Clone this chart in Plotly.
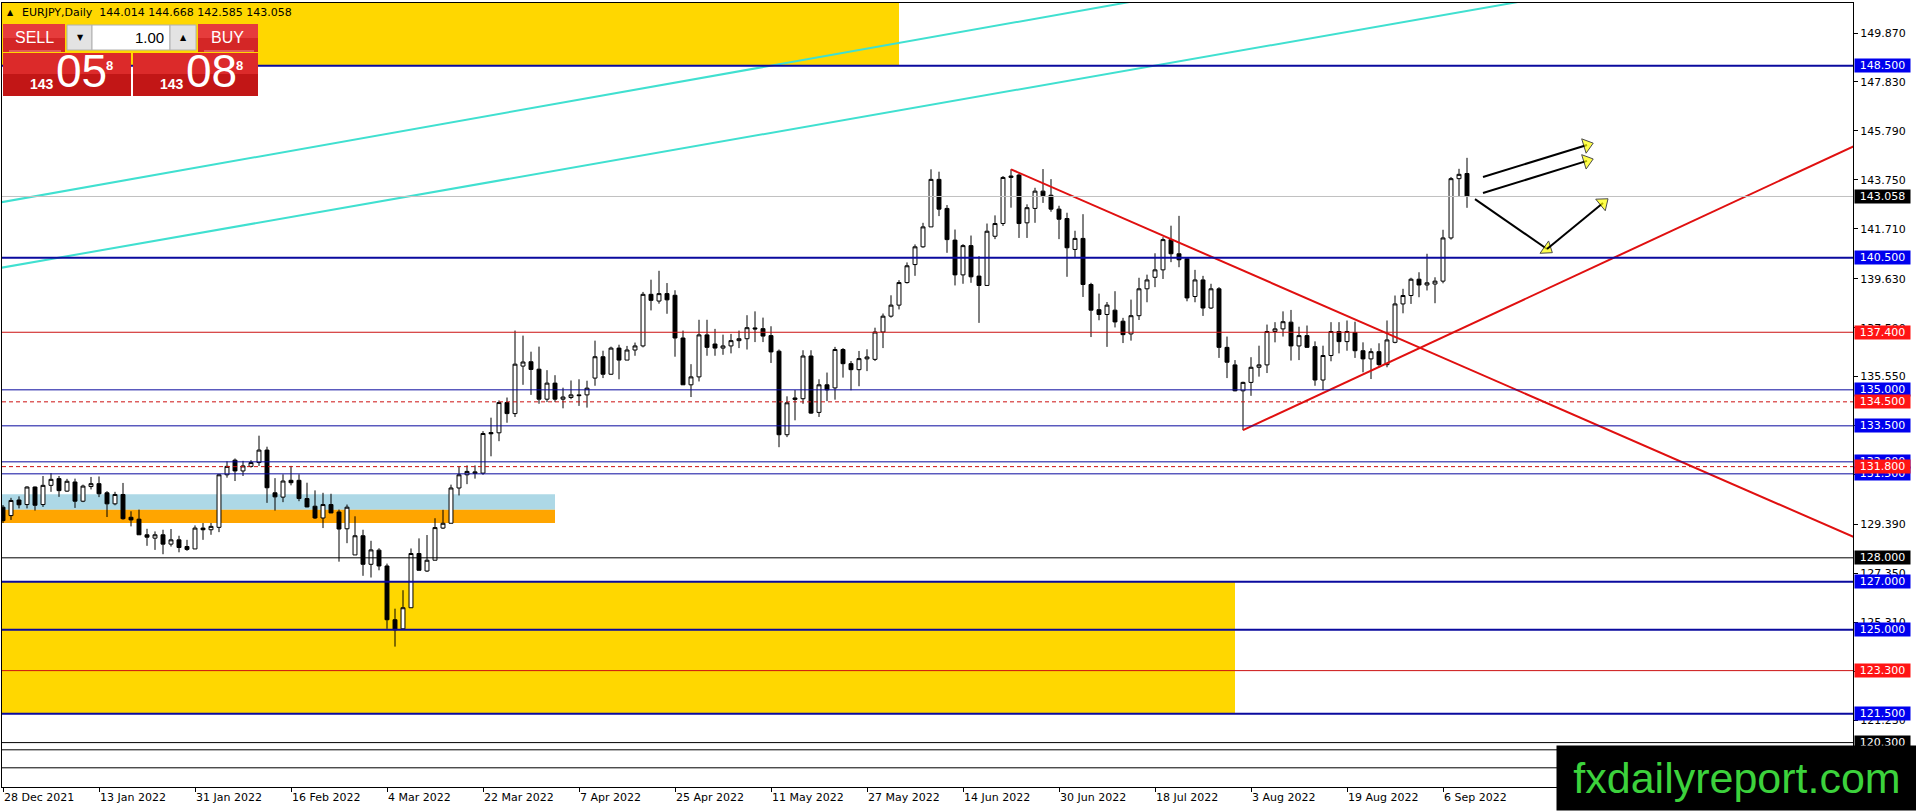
import numpy as np
import pandas as pd
import plotly.graph_objects as go

first_day = "2021-12-28"

# EURJPY daily bars, 28 Dec 2021 .. 9 Sep 2022 (10 bars per row)
opens = [
    130.11, 129.76, 130.41, 130.22, 130.95, 130.22, 131.02, 131.30, 130.78, 131.16,
    130.36, 130.97, 131.09, 130.71, 130.25, 130.64, 129.69, 129.61, 128.96, 128.82,
    128.96, 128.57, 128.75, 128.47, 128.37, 129.24, 129.17, 129.27, 131.46, 132.07,
    131.62, 131.81, 131.97, 132.49, 130.71, 130.53, 131.23, 131.23, 130.47, 130.15,
    129.66, 130.22, 129.91, 129.21, 128.12, 128.92, 127.73, 128.32, 127.66, 125.42,
    125.04, 125.92, 128.18, 127.45, 127.90, 129.24, 129.44, 130.91, 131.46, 131.52,
    131.53, 133.22, 133.21, 134.47, 134.01, 135.99, 136.17, 135.86, 134.61, 135.28,
    134.61, 134.68, 134.79, 134.79, 135.49, 136.38, 135.65, 136.74, 136.24, 136.66,
    136.83, 138.98, 138.70, 139.01, 138.94, 137.16, 135.21, 135.54, 137.29, 136.91,
    136.74, 136.83, 137.05, 137.13, 137.58, 137.55, 137.26, 136.61, 133.13, 134.60,
    134.63, 136.41, 134.06, 135.21, 135.08, 136.68, 136.09, 135.84, 136.29, 136.27,
    137.41, 138.07, 138.53, 139.47, 140.22, 140.96, 141.79, 143.77, 142.56, 141.24,
    139.79, 141.01, 139.74, 139.35, 141.40, 141.93, 143.85, 143.95, 141.96, 142.56,
    143.28, 143.11, 142.53, 142.14, 140.85, 141.31, 139.39, 138.34, 138.14, 138.32,
    137.86, 137.33, 138.09, 139.21, 139.69, 140.00, 141.26, 140.67, 140.46, 138.89,
    139.58, 138.41, 139.21, 136.77, 136.04, 134.96, 135.31, 135.94, 136.04, 137.43,
    137.54, 137.82, 136.83, 137.26, 136.80, 135.41, 136.43, 137.43, 137.01, 137.39,
    136.63, 136.29, 136.59, 136.05, 136.98, 138.58, 138.93, 139.61, 139.37, 139.41,
    139.53, 141.33, 143.80, 144.014,
]
highs = [
    130.20, 130.50, 130.56, 130.98, 130.97, 131.41, 131.53, 131.41, 131.29, 131.30,
    131.05, 131.37, 131.39, 130.78, 130.75, 131.12, 129.94, 130.01, 129.21, 129.10,
    129.17, 129.20, 128.92, 128.75, 129.35, 129.45, 129.45, 131.48, 132.02, 132.14,
    132.04, 132.07, 133.09, 132.63, 131.32, 131.48, 131.83, 131.48, 131.13, 130.81,
    130.71, 130.67, 130.01, 130.22, 129.73, 129.17, 128.71, 128.40, 127.76, 125.88,
    126.65, 128.39, 128.81, 128.95, 129.65, 130.00, 131.05, 131.81, 131.85, 131.85,
    133.28, 133.84, 134.56, 134.68, 137.47, 137.26, 136.59, 136.80, 135.82, 135.61,
    135.09, 135.39, 135.44, 135.38, 137.05, 136.63, 136.80, 136.88, 136.83, 136.97,
    139.08, 139.59, 139.96, 139.45, 139.15, 137.47, 136.07, 137.92, 137.92, 137.54,
    137.30, 137.33, 137.47, 138.11, 138.27, 138.01, 137.65, 136.68, 134.73, 134.99,
    136.65, 136.65, 135.44, 135.72, 136.79, 136.74, 136.20, 136.62, 136.69, 137.59,
    138.18, 138.94, 139.57, 140.31, 141.06, 141.96, 144.19, 144.09, 142.70, 141.68,
    141.07, 141.43, 140.57, 141.93, 142.27, 143.91, 144.19, 144.02, 142.73, 143.42,
    144.20, 143.78, 142.67, 142.38, 141.63, 142.32, 139.46, 139.01, 138.66, 139.11,
    138.00, 138.76, 139.67, 139.80, 140.69, 141.36, 141.84, 142.25, 140.50, 140.00,
    139.75, 139.42, 139.28, 137.22, 136.24, 135.34, 136.36, 136.84, 137.72, 137.82,
    138.27, 138.33, 137.63, 137.68, 137.02, 136.84, 137.82, 137.82, 137.89, 137.84,
    136.98, 136.73, 136.94, 137.89, 138.93, 139.21, 139.67, 139.90, 140.67, 139.69,
    141.67, 143.87, 144.21, 144.668,
]
lows = [
    129.45, 129.58, 130.06, 130.06, 129.97, 130.12, 130.75, 130.54, 130.75, 130.08,
    130.32, 130.85, 130.53, 129.70, 130.19, 129.59, 129.31, 128.96, 128.50, 128.33,
    128.15, 128.47, 128.23, 128.29, 128.37, 128.75, 128.96, 129.07, 131.34, 131.20,
    131.41, 131.76, 131.83, 130.29, 129.97, 130.32, 131.02, 130.36, 130.11, 129.62,
    129.24, 129.87, 127.84, 128.61, 128.12, 127.25, 127.18, 127.48, 125.04, 124.30,
    125.00, 125.92, 127.48, 127.41, 127.90, 129.20, 129.44, 130.60, 131.07, 131.30,
    131.46, 132.23, 132.86, 133.63, 133.87, 135.21, 134.79, 134.42, 134.49, 134.49,
    134.23, 134.61, 134.33, 134.26, 135.17, 135.49, 135.63, 135.44, 136.24, 136.42,
    136.77, 138.31, 138.59, 138.17, 136.38, 135.21, 134.70, 135.35, 136.42, 136.42,
    136.46, 136.52, 136.74, 136.68, 136.99, 136.99, 136.12, 132.61, 133.03, 133.73,
    134.42, 134.00, 133.87, 134.53, 134.59, 135.51, 134.98, 135.15, 135.78, 136.20,
    136.74, 138.01, 138.35, 139.43, 139.75, 140.92, 141.79, 142.24, 140.71, 139.35,
    139.42, 139.46, 137.79, 139.35, 141.28, 141.83, 142.59, 141.33, 141.33, 141.96,
    142.79, 142.42, 141.28, 139.71, 140.50, 138.87, 137.20, 137.90, 136.79, 137.60,
    136.95, 137.05, 137.91, 138.65, 139.28, 139.62, 140.32, 140.11, 138.69, 138.65,
    138.08, 138.37, 136.33, 135.49, 134.94, 133.32, 134.75, 135.55, 135.70, 136.98,
    137.22, 136.22, 136.24, 136.77, 135.17, 134.99, 136.19, 136.52, 136.63, 136.33,
    135.73, 135.45, 135.94, 135.94, 136.94, 138.19, 138.58, 138.86, 139.14, 138.61,
    139.44, 141.26, 143.06, 142.585,
]
closes = [
    129.55, 130.39, 130.21, 130.95, 130.19, 131.02, 131.27, 130.80, 131.19, 130.36,
    130.99, 131.09, 130.67, 130.25, 130.64, 129.63, 129.58, 128.96, 128.86, 128.96,
    128.57, 128.75, 128.43, 128.35, 129.24, 129.17, 129.31, 131.46, 131.81, 131.62,
    131.83, 131.97, 132.49, 130.92, 130.54, 131.20, 131.13, 130.47, 130.12, 129.66,
    130.22, 129.87, 129.20, 130.11, 128.92, 127.73, 128.33, 127.66, 125.42, 125.00,
    125.92, 128.18, 127.48, 127.90, 129.26, 129.44, 130.91, 131.46, 131.60, 131.58,
    133.18, 133.17, 134.47, 134.01, 136.07, 136.16, 135.85, 134.61, 135.28, 134.61,
    134.70, 134.79, 134.76, 135.07, 136.38, 135.65, 136.74, 136.24, 136.66, 136.83,
    138.98, 138.73, 139.01, 138.75, 137.16, 135.21, 135.54, 137.29, 136.77, 136.74,
    136.83, 137.05, 137.13, 137.59, 137.54, 137.24, 136.58, 133.13, 134.46, 134.66,
    136.41, 134.03, 135.21, 135.00, 136.68, 136.09, 135.84, 136.30, 136.37, 137.41,
    138.07, 138.53, 139.47, 140.17, 140.96, 141.79, 143.77, 142.53, 141.26, 139.79,
    141.01, 139.71, 139.35, 141.61, 141.93, 143.85, 143.91, 141.93, 142.59, 143.28,
    143.09, 142.53, 142.11, 140.92, 141.31, 139.39, 138.32, 138.14, 138.53, 137.83,
    137.30, 138.09, 139.21, 139.58, 140.00, 141.26, 140.67, 140.42, 138.83, 139.58,
    138.41, 139.21, 136.77, 136.15, 134.96, 135.31, 135.94, 136.04, 137.43, 137.54,
    137.84, 136.83, 137.26, 136.77, 135.41, 136.43, 137.43, 137.01, 137.43, 136.63,
    136.29, 136.59, 136.05, 137.08, 138.58, 138.93, 139.61, 139.37, 139.46, 139.53,
    141.33, 143.80, 143.98, 143.058,
]

date_ticks = ["2021-12-28", "2022-01-13", "2022-01-31", "2022-02-16", "2022-03-04",
              "2022-03-22", "2022-04-07", "2022-04-25", "2022-05-11", "2022-05-27",
              "2022-06-14", "2022-06-30", "2022-07-18", "2022-08-03", "2022-08-19",
              "2022-09-06"]
price_ticks = [149.87, 147.83, 145.79, 143.75, 141.71, 139.63, 137.59, 135.55,
               133.51, 131.47, 129.39, 127.35, 125.31, 123.27, 121.23]

# horizontal levels
thick_blue = [148.5, 140.5, 127.0, 125.0, 121.5]
thin_blue = [135.0, 133.5, 132.0, 131.5]
red_solid = [137.4, 123.3]
red_dashed = [134.5, 131.8]
black_levels = [128.0, 120.3]
black_unlabelled = [120.0, 119.25]

# trend lines: (date, price) anchors
cyan_upper = [("2021-12-28", 142.83), ("2022-06-30", 150.64)]
cyan_lower = [("2021-12-28", 140.10), ("2022-09-09", 150.79)]
red_down = [("2022-06-22", 144.19), ("2022-09-09", 135.90)]
red_up = [("2022-08-02", 133.32), ("2022-09-09", 137.66)]

arrows = [
    [("2022-09-13", 143.87), ("2022-09-30", 145.20)],
    [("2022-09-13", 143.20), ("2022-09-30", 144.54)],
    [("2022-09-12", 142.95), ("2022-09-23", 140.87)],
    [("2022-09-23", 140.87), ("2022-10-04", 142.79)],
]

# zones: (until date, low, high, colour)
zones = [
    ("2022-06-02", 148.5, 155.0, "#ffd700"),
    ("2022-08-01", 121.5, 127.0, "#ffd700"),
    ("2022-04-04", 130.0, 130.65, "#add8e6"),
    ("2022-04-04", 129.45, 130.0, "#ffa500"),
]

FONT = "DejaVu Sans"
BLUE_LINE, BLUE_TAG = "#0a0a9e", "#0000ee"
RED_LINE, RED_TAG = "#cc1111", "#ff1414"


def bar(d):
    # bar number on the weekday-only daily chart
    return int(np.busday_count(first_day, pd.Timestamp(d).strftime("%Y-%m-%d")))


dates = pd.bdate_range(first_day, periods=len(closes))
xs = [bar(d) for d in dates]
X_RANGE = [-0.125, 231.25]
Y_RANGE = [118.45, 151.12]

# plot area in pixels
L, R, T, B = 2, 1853, 3, 787


def xp(px):
    return (px - L) / (R - L)


def yp(py):
    return (B - py) / (B - T)


def ray(pts, x_from, x_to):
    (d1, p1), (d2, p2) = pts
    b1, b2 = bar(d1), bar(d2)
    k = (p2 - p1) / (b2 - b1)
    return [x_from, x_to], [p1 + k * (x_from - b1), p1 + k * (x_to - b1)]


fig = go.Figure()

for until, lo, hi, col in zones:
    fig.add_shape(type="rect", xref="x", yref="y", x0=-5, x1=bar(until), y0=lo, y1=hi,
                  fillcolor=col, line_width=0, layer="below")

fig.add_trace(go.Candlestick(
    x=xs, open=opens, high=highs, low=lows, close=closes,
    increasing=dict(line=dict(color="black", width=1), fillcolor="white"),
    decreasing=dict(line=dict(color="black", width=1), fillcolor="black"),
    whiskerwidth=0, hoverinfo="skip", showlegend=False))

# levels
def hline(price, color, width=1, dash="solid"):
    fig.add_shape(type="line", xref="paper", yref="y", x0=0, x1=1, y0=price, y1=price,
                  line=dict(color=color, width=width, dash=dash), layer="above")


hline(closes[-1], "#c0c0c0")
for p in thick_blue:
    hline(p, BLUE_LINE, 2)
for p in thin_blue:
    hline(p, BLUE_LINE, 1)
for p in red_solid:
    hline(p, RED_LINE, 1)
for p in red_dashed:
    hline(p, RED_LINE, 1, "4px,3px")
for p in black_levels + black_unlabelled:
    hline(p, "black", 1)

for pts in (cyan_upper, cyan_lower):
    lx, ly = ray(pts, -5, 240)
    fig.add_trace(go.Scatter(x=lx, y=ly, mode="lines", line=dict(color="#40e0d0", width=2),
                             hoverinfo="skip", showlegend=False))
for pts in (red_down, red_up):
    lx, ly = ray(pts, bar(pts[0][0]), 240)
    fig.add_trace(go.Scatter(x=lx, y=ly, mode="lines", line=dict(color="#e01010", width=2),
                             hoverinfo="skip", showlegend=False))

for (d1, p1), (d2, p2) in arrows:
    fig.add_trace(go.Scatter(
        x=[bar(d1), bar(d2)], y=[p1, p2], mode="lines+markers",
        line=dict(color="black", width=2),
        marker=dict(symbol=["circle", "triangle-up"], size=[0, 13], color="#ffff00",
                    angleref="previous", line=dict(color="black", width=1)),
        hoverinfo="skip", showlegend=False))


def price_tag(price, bg):
    fig.add_annotation(xref="paper", x=1, xanchor="left", xshift=1, yref="y", y=price,
                       yanchor="middle", text=f"{price:.3f}", showarrow=False, bgcolor=bg,
                       font=dict(color="white", size=11, family=FONT),
                       width=53, height=11, borderpad=1)


for p in thick_blue + thin_blue:
    price_tag(p, BLUE_TAG)
for p in black_levels + [closes[-1]]:
    price_tag(p, "black")
for p in red_solid + red_dashed:
    price_tag(p, RED_TAG)


# one-click trading panel
def box(x0, y0, x1, y1, fill, edge=None):
    fig.add_shape(type="rect", xref="paper", yref="paper", x0=xp(x0), x1=xp(x1),
                  y0=yp(y1), y1=yp(y0), fillcolor=fill,
                  line=dict(color=edge or fill, width=1 if edge else 0), layer="above")


def text(px, py, s, size, color="white", family="Liberation Sans", bold=False, anchor="center"):
    fig.add_annotation(xref="paper", yref="paper", x=xp(px), y=yp(py), text=s,
                       showarrow=False, xanchor=anchor, yanchor="middle",
                       font=dict(size=size, color=color, family=family,
                                 weight="bold" if bold else "normal"))


for bx0, bx1 in ((3, 65), (198, 258)):
    box(bx0, 24, bx1, 38, "#e63c3c")
    box(bx0, 38, bx1, 52, "#d42626")
    fig.add_shape(type="line", xref="paper", yref="paper", x0=xp(bx0 + 6), x1=xp(bx1 - 4),
                  y0=yp(51), y1=yp(51), line=dict(color="#f29090", width=1), layer="above")
for bx0, bx1 in ((3, 131), (133, 258)):
    box(bx0, 53, bx1, 74, "#dc2a2a")
    box(bx0, 74, bx1, 96, "#c21616")
box(67, 25, 92, 50, "#e3e3e3", "#b0b0b0")
box(92, 25, 170, 50, "white", "#b0b0b0")
box(170, 25, 196, 50, "#e3e3e3", "#b0b0b0")

text(5, 13, "▲", 8, "black", FONT, anchor="left")
text(20, 13, "EURJPY,Daily  144.014 144.668 142.585 143.058", 11, "black", FONT, anchor="left")
text(34, 38, "SELL", 16)
text(227, 38, "BUY", 16)
text(166, 37, "1.00", 15, "black", anchor="right")
text(80, 38, "▼", 8, "black", FONT)
text(183, 38, "▲", 8, "black", FONT)
for cx in (0, 130):
    text(42 + cx, 84, "143", 14, bold=True)
    text(81 + cx, 71, "05" if cx == 0 else "08", 46, family="Liberation Sans Narrow, Liberation Sans")
    text(109 + cx, 65, "8", 13, bold=True)

# site logo
fig.add_annotation(xref="paper", yref="paper", x=xp(1556), y=yp(811), xanchor="left",
                   yanchor="bottom", text="fxdailyreport.com", showarrow=False,
                   bgcolor="black", width=356, height=60, borderpad=2,
                   font=dict(size=43, color="#3cd23c", family="Liberation Sans"))

fig.update_xaxes(range=X_RANGE, rangeslider_visible=False, showgrid=False, zeroline=False,
                 showline=True, linecolor="black", linewidth=1, mirror=True,
                 tickvals=[bar(d) for d in date_ticks],
                 ticktext=[pd.Timestamp(d).strftime("%-d %b %Y") for d in date_ticks],
                 ticks="outside", ticklen=4, tickcolor="black",
                 ticklabelposition="outside right",
                 tickfont=dict(family=FONT, size=11, color="black"))
fig.update_yaxes(range=Y_RANGE, side="right", showgrid=False, zeroline=False,
                 showline=True, linecolor="black", linewidth=1, mirror=True,
                 tickvals=price_ticks, ticktext=[f"{v:.3f}" for v in price_ticks],
                 ticks="outside", ticklen=4, tickcolor="black",
                 tickfont=dict(family=FONT, size=11, color="black"))
fig.update_layout(width=1916, height=811, margin=dict(l=L, r=1916 - R, t=T, b=811 - B),
                  plot_bgcolor="white", paper_bgcolor="white", showlegend=False)

fig.write_html("out.html", config={"displayModeBar": False},
               post_script="document.body.style.margin='0';")
